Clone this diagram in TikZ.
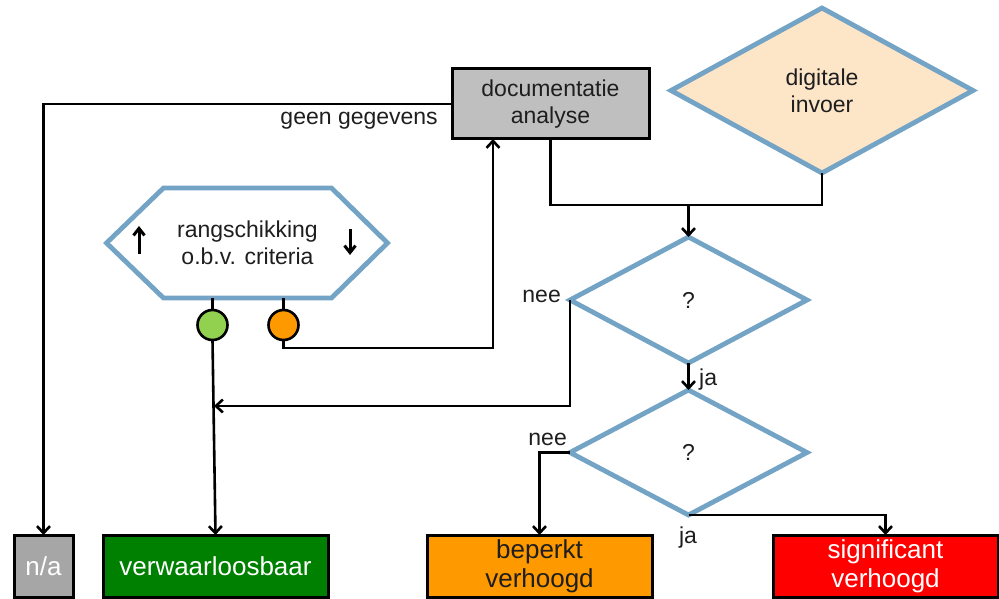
\documentclass[tikz,border=0pt]{standalone}
\usepackage{fontspec}
\setmainfont{Liberation Sans}
\usetikzlibrary{shapes.geometric,arrows.meta}
\definecolor{hexblue}{RGB}{115,163,197}
\definecolor{peach}{RGB}{253,229,200}
\definecolor{docgray}{RGB}{191,191,191}
\definecolor{nagray}{RGB}{166,166,166}
\definecolor{dgreen}{RGB}{0,128,0}
\definecolor{orng}{RGB}{255,153,0}
\definecolor{lgreen}{RGB}{146,208,80}
\definecolor{txt}{RGB}{30,30,30}
\begin{document}
\begin{tikzpicture}[x=1pt,y=-1pt,
  box/.style={draw=black, line width=3pt, outer sep=0pt, inner sep=0pt, align=center, text=txt},
  bigtext/.style={font=\fontsize{26}{29}\selectfont},
  smalltext/.style={font=\fontsize{23}{27}\selectfont},
  decision/.style={diamond, draw=hexblue, line width=4.8pt, outer sep=0pt, inner sep=0pt, align=center, text=txt, smalltext},
  conn/.style={line width=2.6pt},
  arr/.style={conn, -{Straight Barb[length=7pt,width=13pt]}},
  minarr/.style={line width=3pt, -{Straight Barb[length=7pt,width=11pt]}},
  lbl/.style={smalltext, text=txt, inner sep=0pt},
  dot/.style={circle, draw=black, line width=2.6pt, minimum size=30pt, inner sep=0pt, outer sep=0pt}
]
\useasboundingbox (0,0) rectangle (999,599);

% nodes
\node[box, fill=docgray, smalltext, minimum width=197pt, minimum height=70pt] (doc) at (550.5,104) {documentatie\\analyse};
\node[decision, fill=peach, minimum width=302pt, minimum height=165pt] (dig) at (822,90.5) {digitale\\invoer};
\node[decision, fill=white, minimum width=237pt, minimum height=126pt] (q1) at (688.5,300) {?};
\node[decision, fill=white, minimum width=237pt, minimum height=125pt] (q2) at (688.5,452.5) {?};

\node[box, fill=nagray, text=white, bigtext, minimum width=59pt, minimum height=62pt] (na) at (43.5,566) {n/a};
\node[box, fill=dgreen, text=white, bigtext, minimum width=225pt, minimum height=62pt] (verw) at (215.5,566) {verwaarloosbaar};
\node[box, fill=orng, bigtext, minimum width=225pt, minimum height=62pt] (bep) at (539.5,566) {beperkt\\verhoogd};
\node[box, fill=red, text=white, bigtext, minimum width=225pt, minimum height=62pt] (sig) at (885.5,566) {significant\\verhoogd};

% hexagon
\node[smalltext, text=txt, align=center, inner sep=0pt, outer sep=0pt, minimum width=168pt, minimum height=110pt] (hex) at (247.5,243) {rangschikking\\o.b.v. criteria};
\draw[draw=hexblue, line width=4.8pt, line join=miter] (hex.north west) -- (hex.north east) -- ([xshift=56pt]hex.east) -- (hex.south east) -- (hex.south west) -- ([xshift=-57pt]hex.west) -- cycle;
\coordinate (upa) at (139,254);
\coordinate (upb) at (139,226);
\coordinate (dna) at (350,229);
\coordinate (dnb) at (350,255);
\draw[minarr] (upa) -- (upb);
\draw[minarr] (dna) -- (dnb);

\node[dot, fill=lgreen] (gc) at (212.5,325) {};
\node[dot, fill=orng] (oc) at (283.5,325) {};

% connectors
\draw[arr] (doc.west) -| (na.north);
\node[lbl, anchor=base east] (geen) at (438,125) {geen gegevens};

\coordinate (jn) at (688.5,205);
\draw[conn] (doc.south) |- (jn) -| (dig.south);
\draw[arr] (jn) -- (q1.north);

\draw[arr] (q1.south) -- (q2.north);
\node[lbl, anchor=base west] (ja1) at (699,385) {ja};

\coordinate (vk) at (214,406);
\draw[arr] (q1.west) -- (q1.west |- vk) -- (vk);
\node[lbl, anchor=base east] (nee1) at (561,302) {nee};

\draw[arr] (q2.west) -| (bep.north);
\node[lbl, anchor=base east] (nee2) at (567,445) {nee};
\draw[arr] (q2.south) -| (sig.north);
\node[lbl, anchor=base] (ja2) at (688,543) {ja};

\draw[conn] (gc.north) -- (gc.north |- hex.south);
\draw[conn] (oc.north) -- (oc.north |- hex.south);
\draw[arr] (gc.south) -- (verw.north);
\draw[arr] (oc.south) -- ++(0,8) -| ([xshift=-57.5pt]doc.south);
\end{tikzpicture}
\end{document}
